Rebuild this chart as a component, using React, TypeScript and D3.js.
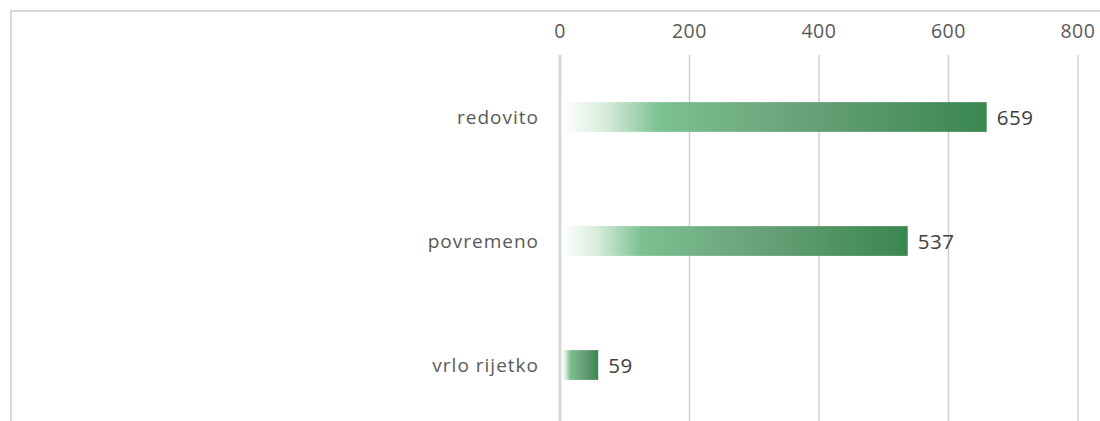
import React from "react";
import * as d3 from "d3";

const categories = ["redovito", "povremeno", "vrlo rijetko"];
const values = [659, 537, 59];
const ticks = [0, 200, 400, 600, 800];

export default function App() {
  const W = 1100, H = 421;
  const x = d3.scaleLinear().domain([0, 800]).range([560, 1078]);
  const y = d3.scaleBand().domain(categories).range([55, 427]).paddingInner(0.76).paddingOuter(0.38);
  const font = "'Open Sans', sans-serif";
  return (
    <svg width={W} height={H} style={{ position: "absolute", left: 0, top: 0 }}>
      <defs>
        <linearGradient id="g" x1="0" x2="1" y1="0" y2="0">
          <stop offset="0" stopColor="#ffffff" />
          <stop offset="0.1" stopColor="#d8eddc" />
          <stop offset="0.23" stopColor="#7cc191" />
          <stop offset="0.55" stopColor="#6aa37a" />
          <stop offset="1" stopColor="#3a8650" />
        </linearGradient>
      </defs>
      <rect x={0} y={0} width={W} height={H} fill="#fff" />
      <line x1={10} x2={W} y1={11} y2={11} stroke="#d9d9d9" strokeWidth={2} />
      <line x1={11} x2={11} y1={10} y2={H} stroke="#d9d9d9" strokeWidth={2} />
      {ticks.map((t) => (
        <g key={t}>
          <line x1={x(t)} x2={x(t)} y1={55} y2={H} stroke={t === 0 ? "#d9d9d9" : "#d0d0d0"} strokeWidth={t === 0 ? 3 : 1.5} />
          <text x={x(t)} y={30} textAnchor="middle" dominantBaseline="central" fontFamily={font} fontSize={19.5} letterSpacing={0.6} fill="#595959">{t}</text>
        </g>
      ))}
      {categories.map((c, i) => {
        const y0 = y(c)!;
        const bw = y.bandwidth();
        return (
          <g key={c}>
            <rect x={x(0) + 2} y={y0} width={x(values[i]) - x(0) - 2} height={bw} fill="url(#g)" />
            <text x={539} y={y0 + bw / 2} textAnchor="end" dominantBaseline="central" fontFamily={font} fontSize={19} letterSpacing={1} fill="#595959">{c}</text>
            <text x={x(values[i]) + 10} y={y0 + bw / 2} dominantBaseline="central" fontFamily={font} fontSize={20.5} letterSpacing={0.6} fill="#404040">{values[i]}</text>
          </g>
        );
      })}
    </svg>
  );
}
